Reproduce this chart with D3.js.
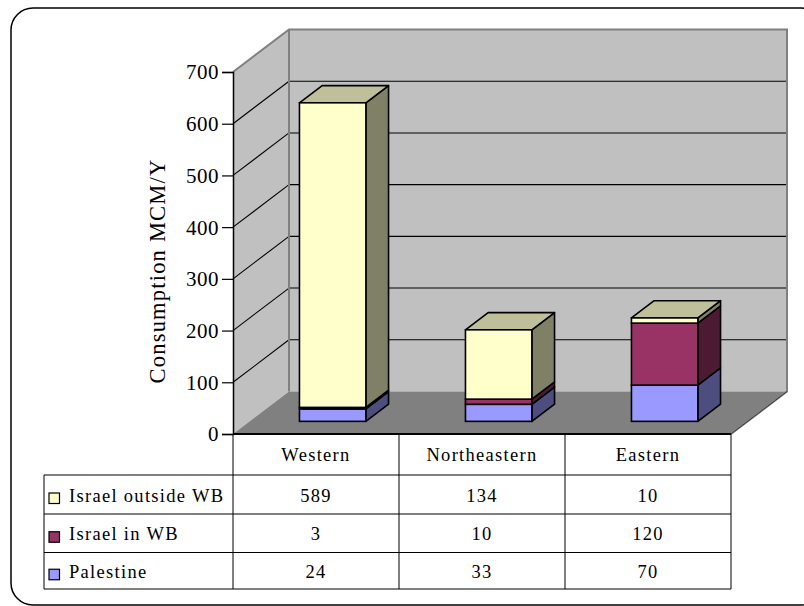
<!DOCTYPE html>
<html>
<head>
<meta charset="utf-8">
<script src="https://cdn.jsdelivr.net/npm/d3@7"></script>
<style>
  html, body { margin: 0; padding: 0; background: #fff; }
  svg { display: block; }
  text { font-family: "Liberation Serif", "Times New Roman", serif; fill: #000; }
</style>
</head>
<body>
<svg id="chart" width="804" height="606"></svg>
<script>
// Water consumption by aquifer basin (MCM per year)
const categories = ["Western", "Northeastern", "Eastern"];
const seriesNames = ["Israel outside WB", "Israel in WB", "Palestine"];
const israelOutsideWB = [589, 134, 10];
const israelInWB = [3, 10, 120];
const palestine = [24, 33, 70];
const yTicks = [0, 100, 200, 300, 400, 500, 600, 700];
const seriesColors = ["#FFFFCC", "#993366", "#9999FF"];
const yTitle = "Consumption MCM/Y";

const svg = d3.select("#chart");

// plot frame: front plane of the 3-D box and depth offset of the back wall
const x0 = 233, x1 = 731, yBase = 434, yTop = 72;
const depthDx = 56, depthDy = -42.5;
const barDepth0 = 0.2975, barDepth1 = 0.7025;

const y = d3.scaleLinear().domain([0, 700]).range([yBase, yTop]);
const x = d3.scaleBand().domain(categories).range([x0, x1])
  .paddingInner(0.6).paddingOuter(0.3);
const colStep = (x1 - x0) / categories.length;

// point on the box at a given front-plane x, value and depth fraction
const proj = (px, v, d) => [px + d * depthDx, y(v) + d * depthDy];
const poly = pts => pts.map(p => p.join(",")).join(" ");

// chart area border
svg.append("rect")
  .attr("x", 11).attr("y", 8).attr("width", 812).attr("height", 597)
  .attr("rx", 22).attr("ry", 22)
  .attr("fill", "#fff").attr("stroke", "#000").attr("stroke-width", 1.5);

// walls and floor
const vMax = y.domain()[1];
svg.append("polygon")
  .attr("points", poly([proj(x0, 0, 0), proj(x0, vMax, 0), proj(x0, vMax, 1), proj(x0, 0, 1)]))
  .attr("fill", "#C0C0C0");
svg.append("polygon")
  .attr("points", poly([proj(x0, 0, 1), proj(x0, vMax, 1), proj(x1, vMax, 1), proj(x1, 0, 1)]))
  .attr("fill", "#C0C0C0");
svg.append("polygon")
  .attr("points", poly([proj(x0, 0, 0), proj(x0, 0, 1), proj(x1, 0, 1), proj(x1, 0, 0)]))
  .attr("fill", "#808080");

// gridlines on side and back walls
const grid = yTicks.filter(t => t > 0 && t < vMax);
svg.append("g").selectAll("line.side").data(grid).join("line")
  .attr("x1", t => proj(x0, t, 0)[0]).attr("y1", t => proj(x0, t, 0)[1])
  .attr("x2", t => proj(x0, t, 1)[0]).attr("y2", t => proj(x0, t, 1)[1])
  .attr("stroke", "#000").attr("stroke-width", 1.1);
svg.append("g").selectAll("line.back").data(grid).join("line")
  .attr("x1", t => proj(x0, t, 1)[0]).attr("y1", t => proj(x0, t, 1)[1])
  .attr("x2", t => proj(x1, t, 1)[0]).attr("y2", t => proj(x1, t, 1)[1])
  .attr("stroke", "#000").attr("stroke-width", 1.1);

// wall outlines
svg.append("polyline")
  .attr("points", poly([proj(x0, vMax, 0), proj(x0, vMax, 1), proj(x1, vMax, 1), proj(x1, 0, 1), proj(x1, 0, 0)]))
  .attr("fill", "none").attr("stroke", "#808080").attr("stroke-width", 2);
svg.append("line")
  .attr("x1", proj(x0, 0, 1)[0]).attr("y1", proj(x0, 0, 1)[1])
  .attr("x2", proj(x0, vMax, 1)[0]).attr("y2", proj(x0, vMax, 1)[1])
  .attr("stroke", "#808080").attr("stroke-width", 2);
svg.append("line")
  .attr("x1", proj(x1, 0, 1)[0]).attr("y1", proj(x1, 0, 1)[1])
  .attr("x2", proj(x1, 0, 0)[0]).attr("y2", proj(x1, 0, 0)[1])
  .attr("stroke", "#404040").attr("stroke-width", 1);

// stacked 3-D columns, bottom to top: Palestine, Israel in WB, Israel outside WB
const rows = categories.map((c, i) => ({
  cat: c, "Palestine": palestine[i], "Israel in WB": israelInWB[i], "Israel outside WB": israelOutsideWB[i]
}));
const stackKeys = ["Palestine", "Israel in WB", "Israel outside WB"];
const stacked = d3.stack().keys(stackKeys)(rows);
const colorOf = k => seriesColors[seriesNames.indexOf(k)];
const shade = (c, f) => { const r = d3.rgb(c); return d3.rgb(r.r * f, r.g * f, r.b * f).formatHex(); };

const barsG = svg.append("g");
categories.forEach((cat, ci) => {
  const bx0 = x(cat), bx1 = x(cat) + x.bandwidth();
  stacked.forEach((layer, li) => {
    const [v0, v1] = layer[ci];
    if (v1 <= v0) return;
    const col = colorOf(layer.key);
    const isTop = li === stacked.length - 1;
    const g = barsG.append("g");
    // side face
    g.append("polygon")
      .attr("points", poly([proj(bx1, v0, barDepth0), proj(bx1, v1, barDepth0), proj(bx1, v1, barDepth1), proj(bx1, v0, barDepth1)]))
      .attr("fill", shade(col, 0.5)).attr("stroke", "#000").attr("stroke-width", 1.6).attr("stroke-linejoin", "round");
    // top face
    if (isTop) {
      g.append("polygon")
        .attr("points", poly([proj(bx0, v1, barDepth0), proj(bx0, v1, barDepth1), proj(bx1, v1, barDepth1), proj(bx1, v1, barDepth0)]))
        .attr("fill", shade(col, 0.75)).attr("stroke", "#000").attr("stroke-width", 1.6).attr("stroke-linejoin", "round");
    }
    // front face
    const p0 = proj(bx0, v1, barDepth0), p1 = proj(bx1, v0, barDepth0);
    g.append("rect")
      .attr("x", p0[0]).attr("y", p0[1])
      .attr("width", p1[0] - p0[0]).attr("height", p1[1] - p0[1])
      .attr("fill", col).attr("stroke", "#000").attr("stroke-width", 1.6);
  });
});

// value axis
const axisG = svg.append("g").attr("transform", `translate(${x0},0)`)
  .call(d3.axisLeft(y).tickValues(yTicks).tickSize(11).tickPadding(3).tickFormat(d3.format("d")));
axisG.select(".domain").attr("stroke", "#000").attr("stroke-width", 1.5);
axisG.selectAll(".tick line").attr("stroke", "#000").attr("stroke-width", 1.2);
axisG.selectAll(".tick text")
  .attr("font-family", "Liberation Serif, Times New Roman, serif")
  .attr("font-size", 21).attr("letter-spacing", 0.5).attr("dy", "0.33em").attr("fill", "#000");

svg.append("text")
  .attr("transform", "translate(165,271) rotate(-90)")
  .attr("text-anchor", "middle").attr("font-size", 22.5).attr("letter-spacing", 1.2)
  .text(yTitle);

// category axis line (front floor edge)
svg.append("line").attr("x1", x0).attr("x2", x1).attr("y1", yBase).attr("y2", yBase)
  .attr("stroke", "#000").attr("stroke-width", 2);

// data table
const tLeft = 44;
const rowEdges = [434, 475, 514, 552.5, 589];
const tableSeries = [
  { name: seriesNames[0], values: israelOutsideWB, color: seriesColors[0] },
  { name: seriesNames[1], values: israelInWB, color: seriesColors[1] },
  { name: seriesNames[2], values: palestine, color: seriesColors[2] }
];
const tg = svg.append("g").attr("font-size", 18.5);
const tableLine = (a, b, c, d) => tg.append("line").attr("x1", a).attr("y1", b).attr("x2", c).attr("y2", d)
  .attr("stroke", "#000").attr("stroke-width", 1);
d3.range(categories.length + 1).forEach(i => tableLine(x0 + i * colStep, rowEdges[0], x0 + i * colStep, rowEdges[4]));
tableLine(tLeft, rowEdges[1], tLeft, rowEdges[4]);
rowEdges.slice(1).forEach(ry => tableLine(tLeft, ry, x1, ry));

categories.forEach((c, i) => {
  tg.append("text").attr("x", x0 + (i + 0.5) * colStep).attr("y", (rowEdges[0] + rowEdges[1]) / 2 + 6.5)
    .attr("text-anchor", "middle").attr("letter-spacing", 1.3).text(c);
});
tableSeries.forEach((s, r) => {
  const cy = (rowEdges[r + 1] + rowEdges[r + 2]) / 2;
  tg.append("rect").attr("x", 49).attr("y", cy - 1.5).attr("width", 10.5).attr("height", 10.5)
    .attr("fill", s.color).attr("stroke", "#000").attr("stroke-width", 1.2);
  tg.append("text").attr("x", 69).attr("y", cy + 7).attr("letter-spacing", 1.3).text(s.name);
  s.values.forEach((v, i) => {
    tg.append("text").attr("x", x0 + (i + 0.5) * colStep).attr("y", cy + 7)
      .attr("text-anchor", "middle").attr("letter-spacing", 1.3).text(v);
  });
});
</script>
</body>
</html>
